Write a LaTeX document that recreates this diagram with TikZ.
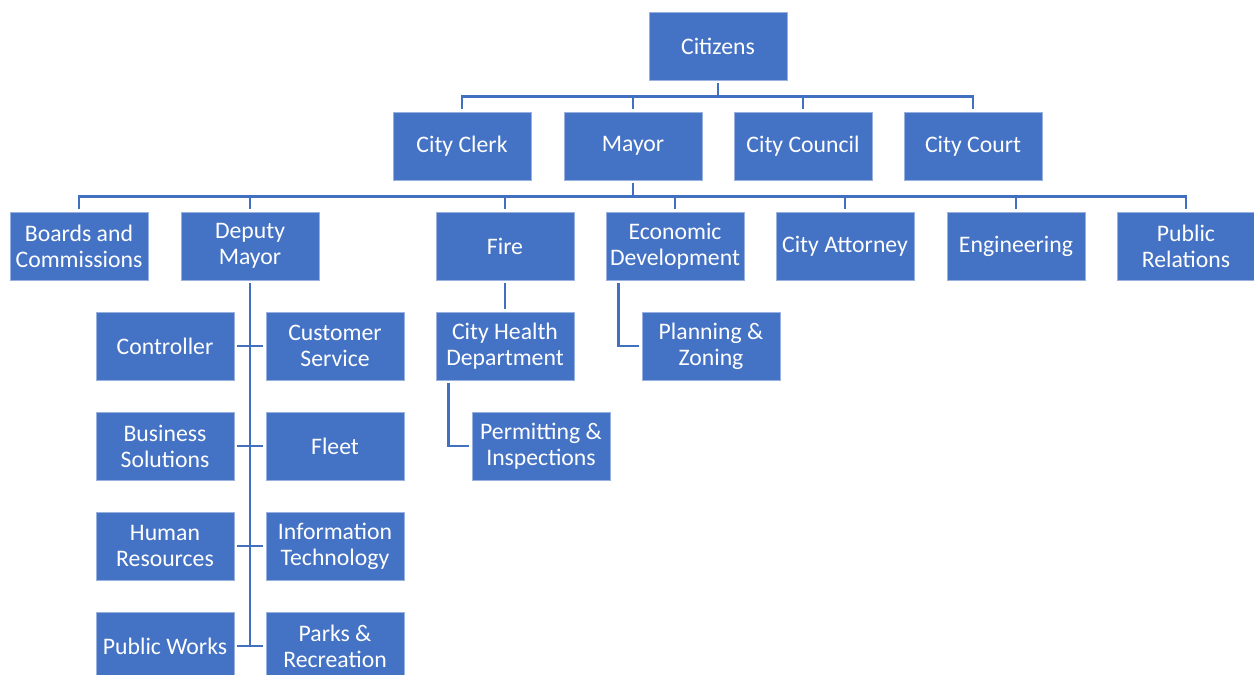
\documentclass[tikz,border=0pt]{standalone}
\usepackage{fontspec}
\setmainfont{Carlito}
\usetikzlibrary{calc}
\definecolor{orgblue}{HTML}{4472C4}
\definecolor{linkblue}{HTML}{4270C0}
\begin{document}
\begin{tikzpicture}[x=0.02cm, y=-0.02cm,
 unit/.style={rectangle, fill=orgblue, draw=orgblue!55!white, line width=0.4pt, text=white, minimum width=2.76cm, minimum height=1.36cm, inner sep=0pt, align=center, font=\fontsize{13.5}{14.8}\selectfont},
 link/.style={draw=linkblue, line width=1.4pt, shorten <=1.7pt, shorten >=1.7pt}]
\useasboundingbox (0,0) rectangle (1254,675);
% top levels
\node[unit] (cit) at (718,46) {Citizens};
\node[unit] (clerk) at (462,146) {City Clerk};
\node[unit] (mayor) at (633,146) {Mayor};
\node[unit] (council) at (803,146) {City Council};
\node[unit] (court) at (973,146) {City Court};
\node[unit] (boards) at (79,246) {Boards and\\Commissions};
\node[unit] (dep) at (250,246) {Deputy\\Mayor};
\node[unit] (fire) at (505,246) {Fire};
\node[unit] (econ) at (675,246) {Economic\\Development};
\node[unit] (atty) at (845,246) {City Attorney};
\node[unit] (eng) at (1016,246) {Engineering};
\node[unit] (pr) at (1186,246) {Public\\Relations};
% under deputy mayor
\node[unit] (ctrl) at (165,346) {Controller};
\node[unit] (cs) at (335,346) {Customer\\Service};
\node[unit] (bs) at (165,446) {Business\\Solutions};
\node[unit] (fleet) at (335,446) {Fleet};
\node[unit] (hr) at (165,546) {Human\\Resources};
\node[unit] (it) at (335,546) {Information\\Technology};
\node[unit] (pw) at (165,646) {Public Works};
\node[unit] (parks) at (335,646) {Parks \&\\Recreation};
% others
\node[unit] (health) at (505,346) {City Health\\Department};
\node[unit] (permit) at (541,446) {Permitting \&\\Inspections};
\node[unit] (plan) at (711,346) {Planning \&\\Zoning};
% connectors
\foreach \n in {clerk,mayor,council,court}
 \draw[link] (cit.south) -- ++(0,16) -| (\n.north);
\foreach \n in {boards,dep,fire,econ,atty,eng,pr}
 \draw[link] (mayor.south) -- ++(0,16) -| (\n.north);
\draw[link, shorten >=0pt] (dep.south) -- (dep.south |- pw.east);
\foreach \l/\r in {ctrl/cs,bs/fleet,hr/it,pw/parks}
 \draw[link] (\l.east) -- (\r.west);
\draw[link] (fire.south) -- (health.north);
\draw[link] ([xshift=0.26cm]health.south west) |- (permit.west);
\draw[link] ([xshift=0.26cm]econ.south west) |- (plan.west);
\end{tikzpicture}
\end{document}
